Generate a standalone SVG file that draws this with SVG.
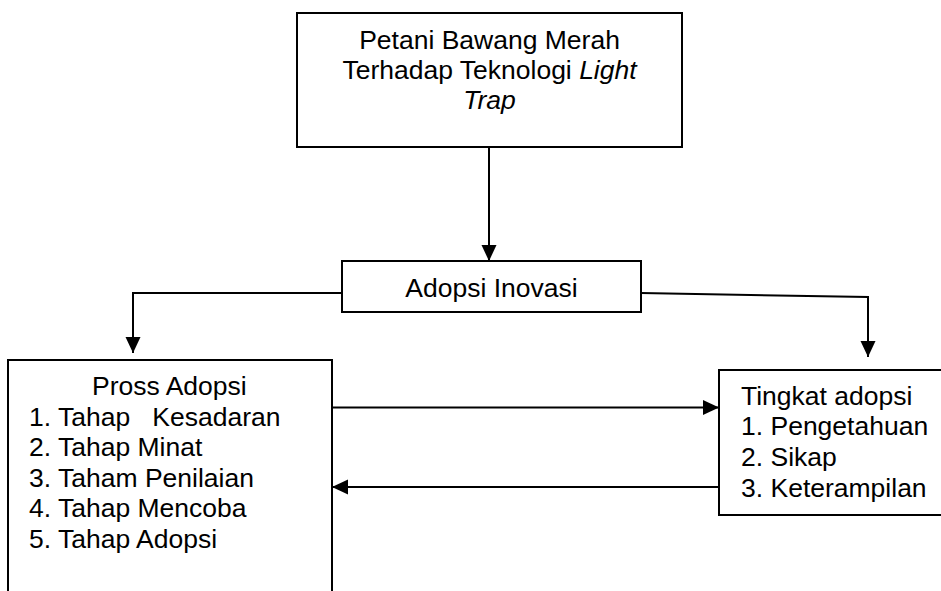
<svg xmlns="http://www.w3.org/2000/svg" width="941" height="591" viewBox="0 0 941 591">
<defs>
<style>
.box{fill:#fff;stroke:#000;stroke-width:2}
.t{font-family:"Liberation Sans",Arial,sans-serif;font-size:26.5px;fill:#000;white-space:pre}
.c{text-anchor:middle}
.ln{fill:none;stroke:#000;stroke-width:2}
</style>
<marker id="ah" markerUnits="userSpaceOnUse" markerWidth="16" markerHeight="16" refX="16" refY="7.5" orient="auto">
<path d="M0,0 L16,7.5 L0,15 z" fill="#000"/>
</marker>
</defs>
<rect width="941" height="591" fill="#fff"/>
<g id="connectors">
<path class="ln" d="M489,147 V261" marker-end="url(#ah)"/>
<path class="ln" d="M342,293 H133 V353" marker-end="url(#ah)"/>
<path class="ln" d="M641,293 L868,297 V357" marker-end="url(#ah)"/>
<path class="ln" d="M332,407.5 H719" marker-end="url(#ah)"/>
<path class="ln" d="M719,487 H332" marker-end="url(#ah)"/>
</g>
<g id="petani">
<rect class="box" x="297" y="13" width="385" height="134"/>
<text class="t c" x="489.5" y="49">Petani Bawang Merah</text>
<text class="t c" x="489.5" y="79">Terhadap Teknologi <tspan font-style="italic">Light</tspan></text>
<text class="t c" x="489.5" y="109" font-style="italic">Trap</text>
</g>
<g id="adopsi">
<rect class="box" x="342" y="261" width="299" height="51"/>
<text class="t c" x="491.5" y="297">Adopsi Inovasi</text>
</g>
<g id="proses">
<path class="box" d="M8,595 V360 H332 V595"/>
<text class="t" x="92" y="395">Pross Adopsi</text>
<text class="t" x="29" y="426">1. Tahap   Kesadaran</text>
<text class="t" x="29" y="456">2. Tahap Minat</text>
<text class="t" x="29" y="487">3. Taham Penilaian</text>
<text class="t" x="29" y="517">4. Tahap Mencoba</text>
<text class="t" x="29" y="548">5. Tahap Adopsi</text>
</g>
<g id="tingkat">
<path class="box" d="M945,370 H719 V515 H945"/>
<text class="t" x="741" y="405">Tingkat adopsi</text>
<text class="t" x="741" y="435">1. Pengetahuan</text>
<text class="t" x="741" y="466">2. Sikap</text>
<text class="t" x="741" y="497">3. Keterampilan</text>
</g>
</svg>
